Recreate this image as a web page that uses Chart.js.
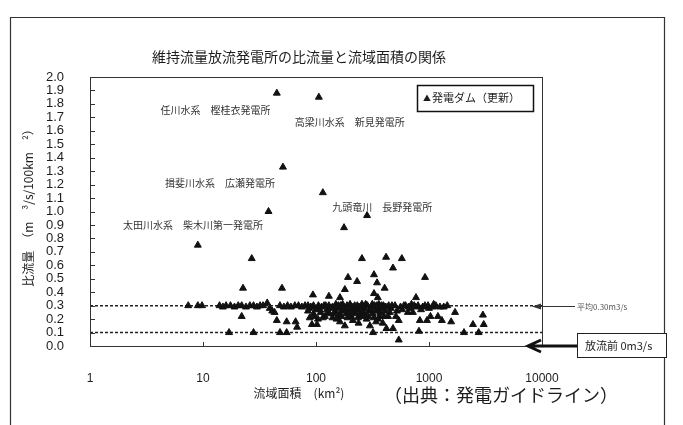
<!DOCTYPE html>
<html lang="ja">
<head>
<meta charset="utf-8">
<title>維持流量放流発電所の比流量と流域面積の関係</title>
<script src="https://cdn.jsdelivr.net/npm/chart.js@4.4.1/dist/chart.umd.min.js"></script>
<style>
    html, body { margin: 0; padding: 0; background: #fff; }
    #wrap { position: relative; width: 683px; height: 425px; }
</style>
</head>
<body>
<div id="wrap"><canvas id="chart" width="683" height="425"></canvas></div>
<script>
// Texts
const chartTitle = '維持流量放流発電所の比流量と流域面積の関係';
const yAxisTitle = '比流量　（m　³/s/100km　²）';
const xAxisTitle = '流域面積　(km²)';
const sourceNote = '（出典：発電ガイドライン）';
const seriesLabel = '発電ダム（更新）';
const averageNote = '平均0.30m3/s';
const beforeNote = '放流前 0m3/s';
const stationNames = [
    '任川水系　樫桂衣発電所',
    '高梁川水系　新見発電所',
    '揖斐川水系　広瀬発電所',
    '九頭竜川　長野発電所',
    '太田川水系　柴木川第一発電所'
];

// Axes
const xTicks = [1, 10, 100, 1000, 10000];
const yTicks = [0.0, 0.1, 0.2, 0.3, 0.4, 0.5, 0.6, 0.7, 0.8, 0.9, 1.0,
                1.1, 1.2, 1.3, 1.4, 1.5, 1.6, 1.7, 1.8, 1.9, 2.0];

// Reference levels (m3/s/100km2): average, lower dashed line
const refLevels = [0.3, 0.1];

// Dams: catchment area (km2) and specific flow
const damArea = [
    // high values
    45, 106, 51, 115, 38, 283, 177, 9, 27, 255, 417, 575, 480, 922,
    326, 192, 231, 347, 180, 405, 22.6, 50, 326, 94, 130, 163, 352, 767,
    // left band
    7.4, 9.0, 9.8, 14, 15, 16, 17.5, 19, 20.5, 22, 24, 26, 28, 30,
    32, 34, 37, 39, 41, 43, 48, 52, 56, 60, 65, 70, 75, 80,
    // lower left
    22, 17, 28, 48, 55, 45, 55, 66, 68,
    // middle cluster
    85, 85, 88, 90, 92, 95, 95, 100, 102, 104, 105, 110, 112, 118, 120,
    125, 130, 132, 140, 140, 148, 150, 156, 160, 163, 165, 170, 175,
    180, 185, 188, 195, 200, 205, 210, 215, 220, 228, 235, 240, 248, 255,
    262, 270, 280, 285, 295, 300,
    87, 97, 108, 115, 122, 128, 135, 145, 152, 158, 168, 172, 178, 190,
    198, 208, 212, 225, 232, 238, 245, 252, 258, 266, 275, 290, 305,
    // right cluster
    310, 318, 330, 340, 350, 360, 365, 375, 390, 395, 410, 420, 435, 440,
    460, 480, 500, 520, 540, 540, 560, 600, 650, 660, 700, 720, 760, 800,
    815, 830, 880, 960, 980, 1030, 1080, 1150, 1200, 1300, 1350, 1450,
    1570, 1700, 2040, 2450, 2750, 3000, 3050, 320,
    315, 325, 335, 345, 355, 370, 380, 400, 415, 450, 470, 510, 580, 620,
    680, 740, 850, 920, 1000, 1100, 1250
];
const damFlow = [
    // high values
    1.88, 1.85, 1.33, 1.14, 1.00, 0.97, 0.88, 0.75, 0.65, 0.65, 0.66, 0.65, 0.58, 0.51,
    0.53, 0.51, 0.48, 0.47, 0.42, 0.43, 0.43, 0.43, 0.39, 0.38, 0.37, 0.36, 0.36, 0.36,
    // left band
    0.30, 0.30, 0.30, 0.30, 0.29, 0.30, 0.30, 0.29, 0.30, 0.30, 0.29, 0.30, 0.30, 0.29,
    0.30, 0.30, 0.32, 0.28, 0.26, 0.25, 0.30, 0.29, 0.30, 0.29, 0.30, 0.30, 0.29, 0.30,
    // lower left
    0.22, 0.10, 0.10, 0.10, 0.10, 0.19, 0.18, 0.18, 0.14,
    // middle cluster
    0.30, 0.26, 0.21, 0.29, 0.16, 0.30, 0.24, 0.27, 0.16, 0.20, 0.30, 0.25, 0.29, 0.30, 0.22,
    0.27, 0.30, 0.24, 0.29, 0.21, 0.26, 0.31, 0.28, 0.23, 0.18, 0.30, 0.26, 0.29,
    0.15, 0.24, 0.30, 0.27, 0.31, 0.22, 0.28, 0.25, 0.30, 0.27, 0.21, 0.29, 0.25, 0.31,
    0.23, 0.28, 0.20, 0.30, 0.26, 0.15,
    0.28, 0.22, 0.27, 0.21, 0.30, 0.25, 0.28, 0.24, 0.20, 0.30, 0.22, 0.31, 0.27, 0.21,
    0.25, 0.29, 0.19, 0.24, 0.30, 0.17, 0.27, 0.22, 0.29, 0.25, 0.31, 0.22, 0.27,
    // right cluster
    0.29, 0.24, 0.30, 0.18, 0.27, 0.31, 0.22, 0.28, 0.17, 0.30, 0.26, 0.13, 0.22, 0.30,
    0.28, 0.13, 0.30, 0.26, 0.19, 0.045, 0.29, 0.30, 0.25, 0.29, 0.31, 0.25, 0.29, 0.30,
    0.11, 0.19, 0.29, 0.19, 0.30, 0.22, 0.29, 0.30, 0.22, 0.19, 0.29, 0.30,
    0.18, 0.25, 0.10, 0.16, 0.10, 0.23, 0.16, 0.10,
    0.31, 0.21, 0.26, 0.30, 0.20, 0.25, 0.30, 0.22, 0.29, 0.25, 0.30, 0.22, 0.27, 0.30,
    0.28, 0.30, 0.27, 0.30, 0.28, 0.31, 0.29
];

// Where the station names sit, in data space (area, flow) of their left edge
const stationAnchors = [
    [4.2, 1.755], [65, 1.665], [4.6, 1.21], [139, 1.03], [1.96, 0.90]
];

const JP = '"Noto Sans CJK JP", "Noto Sans", sans-serif';
const NUM = '"Liberation Sans", Arial, sans-serif';
const INK = '#1c1c1c';

const decorations = {
    id: 'decorations',
    beforeDraw(chart) {
        const ctx = chart.ctx;
        ctx.save();
        ctx.fillStyle = '#fff';
        ctx.fillRect(0, 0, chart.width, chart.height);
        ctx.restore();
    },
    afterDraw(chart) {
        const { ctx, chartArea: a, scales: { x, y } } = chart;
        ctx.save();

        // outer frame
        ctx.strokeStyle = '#333';
        ctx.lineWidth = 1.2;
        ctx.beginPath();
        ctx.moveTo(10.5, 425); ctx.lineTo(10.5, 17.5); ctx.lineTo(664.5, 17.5); ctx.lineTo(664.5, 333);
        ctx.moveTo(664.5, 358); ctx.lineTo(664.5, 425);
        ctx.stroke();

        // plot border
        ctx.strokeStyle = '#333';
        ctx.lineWidth = 1;
        ctx.strokeRect(a.left + 0.5, a.top + 0.5, a.right - a.left, a.bottom - a.top);

        // inside tick marks
        ctx.beginPath();
        yTicks.forEach(v => {
            const py = Math.round(y.getPixelForValue(v)) + 0.5;
            ctx.moveTo(a.left, py); ctx.lineTo(a.left + 5, py);
        });
        xTicks.slice(1, -1).forEach(v => {
            const px = Math.round(x.getPixelForValue(v)) + 0.5;
            ctx.moveTo(px, a.bottom); ctx.lineTo(px, a.bottom - 4);
        });
        ctx.stroke();

        // title
        ctx.fillStyle = INK;
        ctx.textBaseline = 'middle';
        ctx.textAlign = 'center';
        ctx.font = '14px ' + JP;
        ctx.fillText(chartTitle, 299, 57);

        // y axis title, rotated
        ctx.save();
        ctx.translate(28, 205);
        ctx.rotate(-Math.PI / 2);
        ctx.font = '12px ' + JP;
        ctx.fillText(yAxisTitle, 0, 0);
        ctx.restore();

        // x axis title and source
        ctx.font = '12px ' + JP;
        ctx.fillText(xAxisTitle, 299, 393);
        ctx.textAlign = 'left';
        ctx.font = '18px ' + JP;
        ctx.fillText(sourceNote, 384, 395);

        // legend
        ctx.lineWidth = 1.5;
        ctx.strokeStyle = '#111';
        ctx.strokeRect(417.5, 85.5, 116, 26);
        ctx.fillStyle = INK;
        ctx.font = '8px ' + JP;
        ctx.fillText('▲', 423, 98);
        ctx.font = '11px ' + JP;
        ctx.fillText(seriesLabel, 432, 98);

        // station names
        ctx.font = '10px ' + JP;
        ctx.fillStyle = '#333';
        stationNames.forEach((name, i) => {
            const [ax, ay] = stationAnchors[i];
            ctx.fillText(name, x.getPixelForValue(ax), y.getPixelForValue(ay));
        });

        // average arrow
        const yAvg = Math.round(y.getPixelForValue(refLevels[0])) + 0.5;
        ctx.strokeStyle = '#333';
        ctx.lineWidth = 1;
        ctx.beginPath();
        ctx.moveTo(575, yAvg); ctx.lineTo(538, yAvg);
        ctx.stroke();
        ctx.fillStyle = '#333';
        ctx.beginPath();
        ctx.moveTo(532, yAvg); ctx.lineTo(541, yAvg - 3); ctx.lineTo(541, yAvg + 3); ctx.closePath();
        ctx.fill();
        ctx.fillStyle = '#555';
        ctx.font = '8px ' + JP;
        ctx.fillText(averageNote, 577, yAvg);

        // "before" arrow and box
        const yZero = y.getPixelForValue(0);
        ctx.strokeStyle = '#111';
        ctx.lineWidth = 3;
        ctx.beginPath();
        ctx.moveTo(577, yZero); ctx.lineTo(530, yZero);
        ctx.moveTo(541, yZero - 6); ctx.lineTo(528, yZero); ctx.lineTo(541, yZero + 6);
        ctx.stroke();
        ctx.fillStyle = '#fff';
        ctx.fillRect(577, 333, 90, 25);
        ctx.lineWidth = 1;
        ctx.strokeStyle = '#222';
        ctx.strokeRect(577.5, 333.5, 89, 24);
        ctx.fillStyle = INK;
        ctx.font = '11px ' + JP;
        ctx.fillText(beforeNote, 585, 346);

        ctx.restore();
    }
};

const ctx = document.getElementById('chart').getContext('2d');
new Chart(ctx, {
    type: 'scatter',
    data: {
        datasets: [
            {
                label: seriesLabel,
                data: damArea.map((a, i) => ({ x: a, y: damFlow[i] })),
                pointStyle: 'triangle',
                pointRadius: 4,
                backgroundColor: '#111',
                borderColor: '#111',
                borderWidth: 1,
                order: 1
            },
            ...refLevels.map(level => ({
                label: 'ref ' + level,
                type: 'line',
                data: [
                    { x: xTicks[0], y: level },
                    { x: xTicks[xTicks.length - 1], y: level }
                ],
                borderColor: '#222',
                borderWidth: 1.5,
                borderDash: [3, 2],
                pointRadius: 0,
                fill: false,
                order: 2
            }))
        ]
    },
    options: {
        responsive: false,
        animation: false,
        devicePixelRatio: 1,
        layout: { padding: { left: 0, top: 77, right: 141, bottom: 0 } },
        plugins: {
            legend: { display: false },
            tooltip: { enabled: false },
            title: { display: false }
        },
        scales: {
            x: {
                type: 'logarithmic',
                min: xTicks[0],
                max: xTicks[xTicks.length - 1],
                afterBuildTicks: s => { s.ticks = xTicks.map(v => ({ value: v })); },
                afterFit: s => { s.height = 79; },
                grid: { display: false },
                border: { display: false },
                ticks: {
                    autoSkip: false,
                    maxRotation: 0,
                    padding: 17,
                    color: INK,
                    font: { family: NUM, size: 12 },
                    callback: v => String(v)
                }
            },
            y: {
                min: 0,
                max: 2.0,
                afterBuildTicks: s => { s.ticks = yTicks.map(v => ({ value: v })); },
                afterFit: s => { s.width = 90; },
                grid: { display: false },
                border: { display: false },
                ticks: {
                    autoSkip: false,
                    padding: 18,
                    color: INK,
                    font: { family: NUM, size: 13 },
                    callback: v => Number(v).toFixed(1)
                }
            }
        }
    },
    plugins: [decorations]
});
</script>
</body>
</html>
